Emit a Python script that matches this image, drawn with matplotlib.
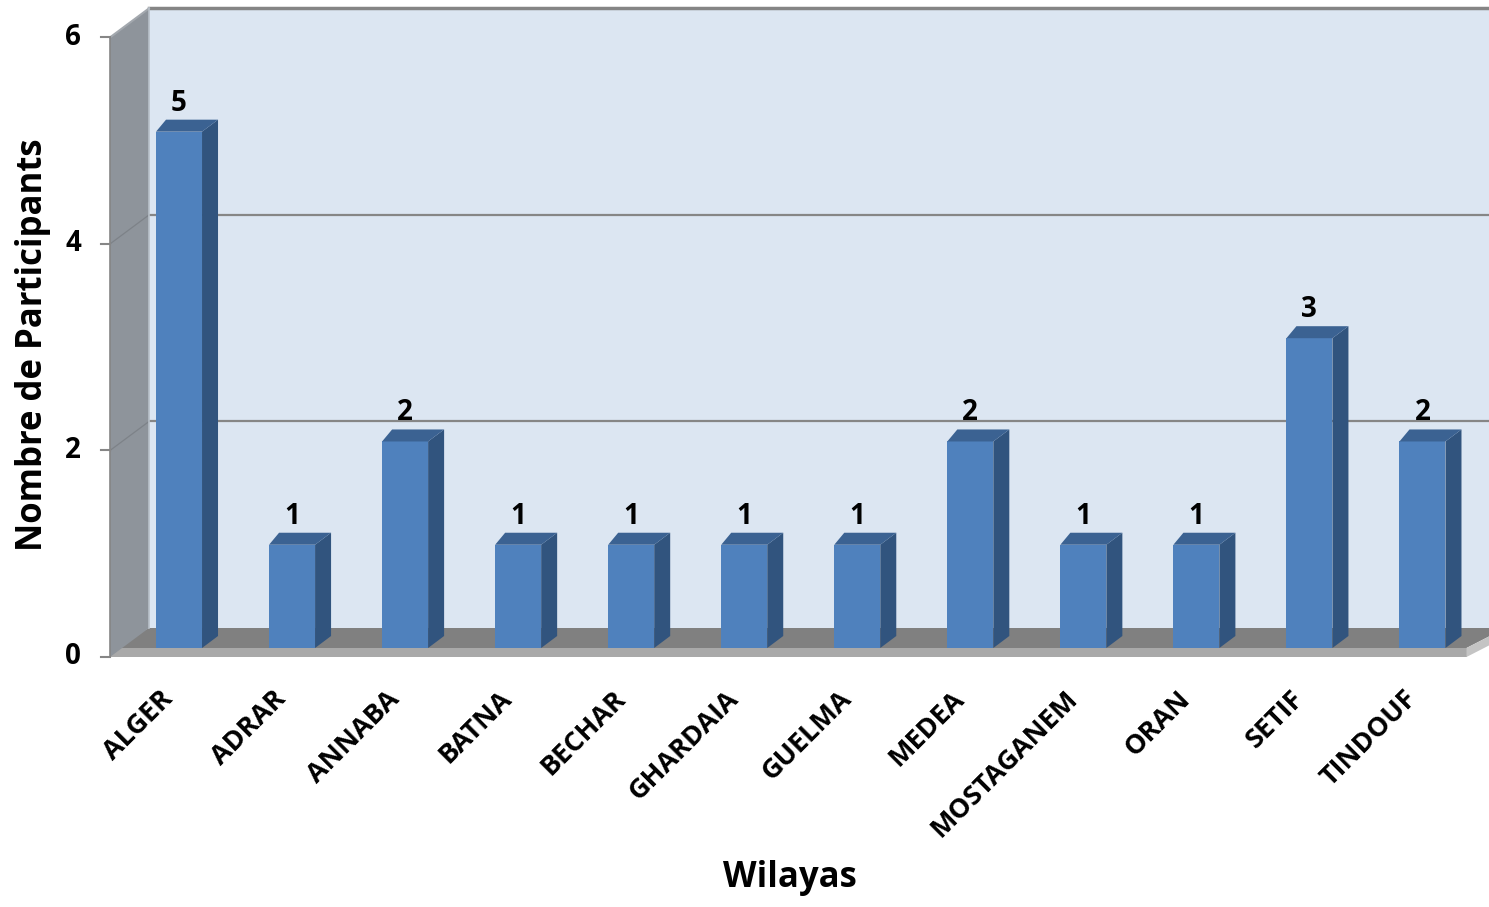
import numpy as np
import matplotlib.pyplot as plt
from matplotlib.patches import Polygon

wilayas = ["ALGER", "ADRAR", "ANNABA", "BATNA", "BECHAR", "GHARDAIA",
           "GUELMA", "MEDEA", "MOSTAGANEM", "ORAN", "SETIF", "TINDOUF"]
participants = [5, 1, 2, 1, 1, 1, 1, 2, 1, 1, 3, 2]
yticks = [0, 2, 4, 6]

plt.rcParams["font.family"] = ["Open Sans", "DejaVu Sans"]
plt.rcParams["font.weight"] = "bold"

W, H = 1489, 907
fig = plt.figure(figsize=(W / 100, H / 100), dpi=100)

# bar plane axes, the walls are shifted copies of it
ax = fig.add_axes([122.5 / W, 1 - 648 / H, 1356.5 / W, 619.6 / H])
ax.set_xlim(-0.5, 11.5)
ax.set_ylim(0, 6)
ax.axis("off")

ux = 12 / 1356.5
uy = 6 / 619.6


def off(dx, dy):
    # pixel offset -> data offset
    return dx * ux, dy * uy


fx, fy = off(-12.5, -9)    # front plane
bx, by = off(26.5, 20)     # back wall plane
x0, x1 = -0.5, 11.5


def poly(pts, color, z):
    ax.add_patch(Polygon(pts, closed=True, facecolor=color, edgecolor="none",
                         zorder=z, clip_on=False))


# back wall
poly([(x0 + bx, by), (x1 + bx, by), (x1 + bx, 6 + by), (x0 + bx, 6 + by)],
     "#DCE6F2", 0)
# floor
t = off(0, 9)[1]
poly([(x0 + fx, fy + t), (x1 + fx, fy + t), (x1 + bx, by), (x0 + bx, by)],
     "#808080", 1)
poly([(x0 + fx, fy), (x1 + fx, fy), (x1 + fx, fy + t), (x0 + fx, fy + t)],
     "#A9A9A9", 1)
poly([(x1 + fx, fy), (x1 + fx, fy + t), (x1 + bx, by), (x1 + bx, by - t)],
     "#C4C4C4", 1)
# left wall
poly([(x0 + fx, fy), (x0 + fx, 6 + fy), (x0 + bx, 6 + by), (x0 + bx, by)],
     "#8E949B", 2)

# gridlines
for v in yticks[1:-1]:
    ax.plot([x0 + bx, x1 + bx], [v + by, v + by], color="#868686", lw=1.6,
            zorder=0.5, clip_on=False)
    ax.plot([x0 + fx, x0 + bx], [v + fy, v + by], color="#7D8288", lw=0.9,
            zorder=2.5, clip_on=False)
ax.plot([x0 + bx, x1 + bx], [6 + by, 6 + by], color="#858585", lw=2.5,
        zorder=2.5, clip_on=False)
ax.plot([x0 + fx, x0 + bx], [6 + fy, 6 + by], color="#A3A8AE", lw=1.5,
        zorder=2.5, clip_on=False)
ax.plot([x0 + bx, x0 + bx], [by, 6 + by], color="#B8C0C8", lw=1.2,
        zorder=2.5, clip_on=False)
ax.plot([x0 + fx, x0 + fx], [fy, 6 + fy], color="#858585", lw=1.2,
        zorder=2.6, clip_on=False)

# y ticks on the front plane
for v in yticks:
    ax.plot([x0 + fx - 9 * ux, x0 + fx], [v + fy, v + fy], color="#868686",
            lw=1.5, clip_on=False, zorder=3)
    ax.text(x0 + fx - 29 * ux, v + fy, str(v), ha="right", va="center",
            fontsize=20, clip_on=False)

# bars
xs = np.arange(len(wilayas))
w = 0.407
ax.bar(xs, participants, width=w, color="#4F81BD", zorder=4)
sdx, sdy = off(16, 12)
ldx = off(10, 0)[0]
for x, v in zip(xs, participants):
    poly([(x + w / 2, 0), (x + w / 2, v), (x + w / 2 + sdx, v + sdy),
          (x + w / 2 + sdx, sdy)], "#31547E", 4)
    poly([(x - w / 2, v), (x + w / 2, v), (x + w / 2 + sdx, v + sdy),
          (x - w / 2 + ldx, v + sdy)], "#3B6292", 4)
    ax.text(x, v + sdy + 9 * uy, str(v), ha="center", va="baseline",
            fontsize=20, zorder=5)

# category labels
for x, name in zip(xs, wilayas):
    ax.text(x + fx + 12 * ux, fy - 29 * uy, name, rotation=45, ha="right",
            va="top", fontsize=19.5, clip_on=False)

fig.text(33 / W, 1 - 345 / H, "Nombre de Participants", rotation=90,
         ha="center", va="center", fontsize=25)
fig.text(789.5 / W, 1 - 887 / H, "Wilayas", ha="center", va="baseline",
         fontsize=25)

fig.savefig("out.png", dpi=100)
